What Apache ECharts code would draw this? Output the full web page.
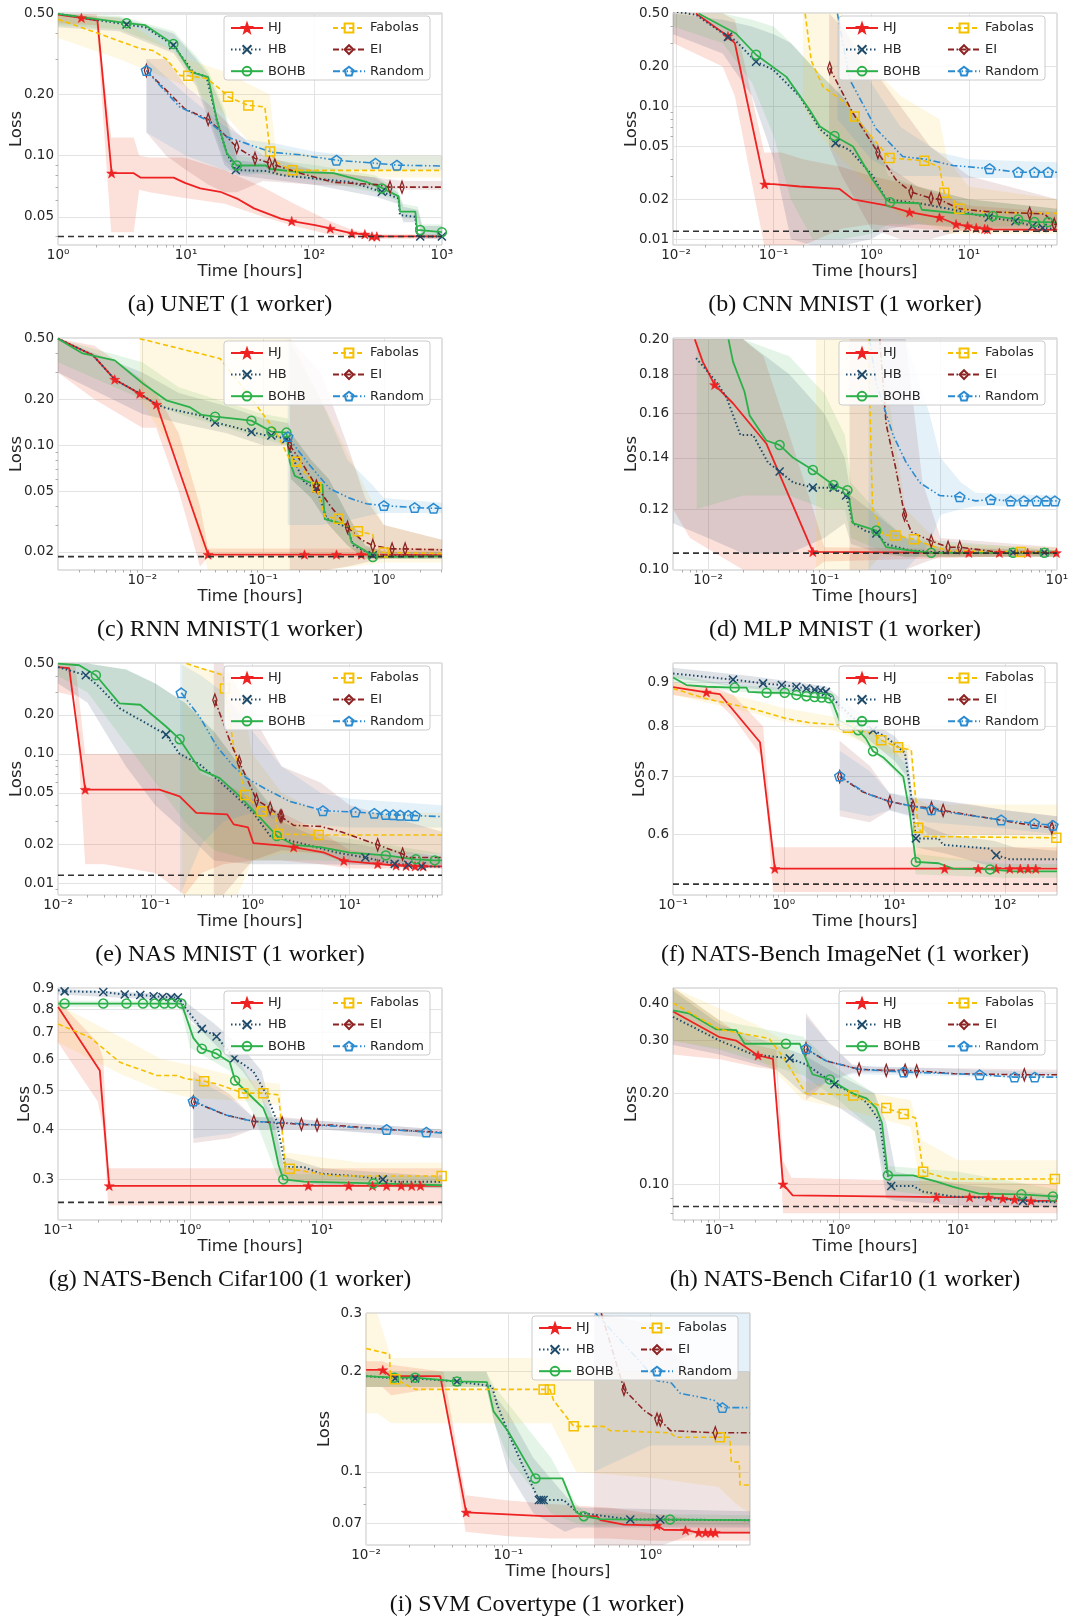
<!DOCTYPE html>
<html><head><meta charset="utf-8">
<script src="https://cdn.jsdelivr.net/npm/echarts@6/dist/echarts.min.js"></script>
<style>html,body{margin:0;padding:0;background:#fff}#c{width:1072px;height:1621px}</style>
</head><body><div id="c"></div>
<script>
// ---------------- DATA ----------------
// line points: [time, loss, markerFlag]; band points: [time, low, high]
const METHODS = ['HJ','HB','BOHB','Fabolas','EI','Random'];
const CAPTIONS = ['(a) UNET (1 worker)','(b) CNN MNIST (1 worker)','(c) RNN MNIST(1 worker)','(d) MLP MNIST (1 worker)','(e) NAS MNIST (1 worker)','(f) NATS-Bench ImageNet (1 worker)','(g) NATS-Bench Cifar100 (1 worker)','(h) NATS-Bench Cifar10 (1 worker)','(i) SVM Covertype (1 worker)'];

// (a) UNET
const A_XRANGE=[0.998,1002], A_YRANGE=[0.0363,0.505], A_XTICKS=[1,10,100,1000], A_YTICKS=[0.05,0.1,0.2,0.5], A_YLABELS=['0.05','0.10','0.20','0.50'], A_OPT=0.04;
const A_HJ=[[1,0.496],[1.52,0.478,1],[2.03,0.463],[2.62,0.082,1],[3.9,0.082],[4.4,0.078],[8,0.078],[9.8,0.0735],[12.9,0.069],[18.5,0.0664],[25,0.0615],[34,0.055],[43,0.052],[55,0.049],[67,0.0476,1],[102,0.0455],[134,0.0438,1],[198,0.0414,1],[250,0.041,1],[284,0.04,1],[310,0.04,1],[1000,0.04]];
const A_HB=[[1,0.5],[3.43,0.443,1],[4.8,0.43],[7.95,0.35,1],[11.4,0.258],[14.5,0.244],[17.4,0.15],[20.8,0.103],[24.5,0.085,1],[42.6,0.084],[57.6,0.08],[105,0.077],[192,0.0743],[339,0.0664,1],[459,0.0615],[470,0.051],[620,0.05],[640,0.04],[677,0.04,1],[1000,0.04,1]];
const A_BOHB=[[1,0.5],[3.43,0.45,1],[4.8,0.44],[7.95,0.355,1],[11,0.258],[14.9,0.244],[17.4,0.15],[20.8,0.103],[24.9,0.0895,1],[42,0.0895],[45.5,0.086],[78,0.083],[142,0.082],[260,0.074],[330,0.07],[339,0.069,1],[459,0.063],[470,0.053],[620,0.053],[640,0.043],[677,0.043,1],[1000,0.042,1]];
const A_FAB=[[1,0.47],[2.1,0.399],[4.4,0.337],[5.5,0.33],[7,0.3],[9,0.248],[10.4,0.248,1],[14.5,0.24],[19,0.21],[21.3,0.195,1],[30.7,0.177,1],[41.3,0.174],[45.4,0.105,1],[50,0.094],[55,0.09],[67.8,0.0847,1],[1000,0.0847]];
const A_EI=[[4.9,0.263,1],[9.8,0.17],[14.9,0.151,1],[20.8,0.124],[24.9,0.11,1],[34.6,0.097,1],[44.8,0.092,1],[49.5,0.09,1],[78,0.082],[142,0.074],[310,0.072],[393,0.07,1],[488,0.07,1],[1000,0.07]];
const A_RND=[[4.9,0.263,1],[8.9,0.174],[14.5,0.15],[20.8,0.124],[31.8,0.113],[46.7,0.104],[78,0.101],[150,0.095,1],[303,0.0918,1],[445,0.0898,1],[1000,0.089]];
const A_HJ_B=[[1,0.45,0.5],[2,0.44,0.5],[2.6,0.042,0.123],[3.9,0.042,0.123],[4.3,0.068,0.1],[5.2,0.066,0.098],[9.5,0.062,0.098],[20,0.058,0.085],[40,0.05,0.07],[70,0.045,0.058],[130,0.041,0.048],[200,0.04,0.043],[300,0.039,0.041],[1000,0.039,0.041]];
const A_HB_B=[[1,0.43,0.5],[3,0.41,0.48],[8,0.32,0.4],[12,0.22,0.3],[15,0.15,0.25],[20,0.09,0.16],[25,0.08,0.095],[50,0.076,0.09],[100,0.072,0.085],[300,0.063,0.078],[450,0.058,0.066],[500,0.047,0.056],[650,0.047,0.054],[700,0.039,0.045],[1000,0.039,0.045]];
const A_BOHB_B=[[1,0.44,0.5],[3,0.42,0.49],[8,0.33,0.41],[12,0.23,0.31],[15,0.16,0.26],[20,0.095,0.17],[25,0.083,0.1],[50,0.08,0.095],[100,0.076,0.09],[300,0.066,0.08],[450,0.06,0.068],[500,0.049,0.058],[650,0.049,0.056],[700,0.04,0.046],[1000,0.04,0.046]];
const A_FAB_B=[[1,0.38,0.5],[3,0.3,0.48],[10,0.22,0.3],[20,0.16,0.26],[45,0.09,0.2],[50,0.08,0.11],[100,0.078,0.1],[1000,0.078,0.1]];
const A_EI_B=[[4.9,0.13,0.3],[7,0.1,0.3],[10,0.085,0.22],[15,0.072,0.18],[20,0.066,0.15],[25,0.066,0.13],[40,0.075,0.1],[100,0.072,0.085],[300,0.07,0.078],[500,0.068,0.075],[1000,0.068,0.075]];
const A_RND_B=[[4.9,0.13,0.3],[10,0.1,0.2],[20,0.085,0.14],[30,0.08,0.12],[50,0.085,0.115],[100,0.085,0.105],[200,0.085,0.1],[1000,0.085,0.1]];

// (b) CNN MNIST
const B_XRANGE=[0.0093,80], B_YRANGE=[0.00907,0.505], B_XTICKS=[0.01,0.1,1,10], B_YTICKS=[0.01,0.02,0.05,0.1,0.2,0.5], B_YLABELS=['0.01','0.02','0.05','0.10','0.20','0.50'], B_OPT=0.0115;
const B_HJ=[[0.016,0.5],[0.034,0.338,1],[0.04,0.3],[0.081,0.026,1],[0.1,0.026],[0.185,0.025],[0.47,0.024],[0.65,0.02],[1.42,0.018],[2.47,0.016,1],[5,0.0146,1],[7.4,0.013,1],[9.7,0.0126,1],[11.9,0.0122,1],[14.5,0.012,1],[15.5,0.0119,1],[80,0.0118]];
const B_HB=[[0.0093,0.52],[0.016,0.49],[0.034,0.334,1],[0.04,0.316],[0.066,0.217,1],[0.098,0.19],[0.185,0.119],[0.296,0.068],[0.43,0.053,1],[0.6,0.047],[1.04,0.03],[1.42,0.02],[3.1,0.0187],[6.85,0.0167],[16,0.0146,1],[30,0.0137,1],[45,0.0126,1],[57,0.0122,1],[80,0.0119]];
const B_BOHB=[[0.017,0.5],[0.041,0.354],[0.066,0.245,1],[0.135,0.167],[0.234,0.094],[0.296,0.071],[0.42,0.06,1],[0.65,0.05],[1.04,0.028],[1.42,0.02],[1.56,0.019,1],[3.1,0.0187],[3.3,0.0167],[6.85,0.0158],[17.6,0.015,1],[32,0.0141,1],[47,0.0135,1],[65,0.0135,1],[80,0.0133]];
const B_FAB=[[0.21,0.5],[0.243,0.22],[0.32,0.141],[0.555,0.105],[0.675,0.084,1],[1.22,0.05],[1.54,0.041,1],[3.5,0.039,1],[5,0.035],[5.6,0.0224,1],[6.85,0.02],[8,0.017,1],[15,0.016],[80,0.0157]];
const B_EI=[[0.375,0.194,1],[0.65,0.089],[1.17,0.045,1],[1.8,0.028],[2.56,0.0227,1],[4.1,0.0204,1],[5,0.02,1],[6,0.0187],[8,0.017],[15,0.0162],[42,0.0157,1],[60,0.0155],[75,0.013,1],[80,0.013]];
const B_RND=[[0.45,0.5],[0.6,0.16],[1.12,0.068],[2.1,0.042],[3.66,0.04],[6.85,0.036],[16.3,0.034,1],[32,0.032,1],[47,0.032,1],[65,0.032,1],[80,0.032]];
const B_HJ_B=[[0.0093,0.3,0.5],[0.03,0.2,0.5],[0.04,0.12,0.45],[0.08,0.009,0.045],[0.12,0.009,0.045],[0.2,0.009,0.04],[0.5,0.012,0.035],[1,0.013,0.03],[3,0.012,0.025],[10,0.0115,0.018],[80,0.0115,0.016]];
const B_HB_B=[[0.0093,0.35,0.5],[0.03,0.25,0.45],[0.06,0.12,0.4],[0.1,0.04,0.35],[0.15,0.01,0.3],[0.25,0.009,0.2],[0.5,0.009,0.12],[1,0.01,0.06],[1.5,0.012,0.035],[3,0.013,0.025],[10,0.012,0.02],[80,0.012,0.017]];
const B_BOHB_B=[[0.0093,0.4,0.5],[0.03,0.3,0.5],[0.06,0.15,0.45],[0.1,0.06,0.4],[0.15,0.02,0.3],[0.25,0.01,0.2],[0.5,0.01,0.12],[1,0.011,0.06],[1.5,0.013,0.03],[3,0.013,0.025],[10,0.0125,0.02],[80,0.0125,0.017]];
const B_FAB_B=[[0.2,0.1,0.5],[0.3,0.06,0.5],[0.5,0.04,0.5],[1,0.025,0.2],[2,0.015,0.12],[5,0.012,0.08],[6,0.011,0.04],[10,0.011,0.025],[80,0.011,0.02]];
const B_EI_B=[[0.37,0.05,0.5],[0.5,0.03,0.4],[1,0.012,0.2],[2,0.01,0.1],[4,0.01,0.05],[10,0.012,0.03],[80,0.012,0.02]];
const B_RND_B=[[0.45,0.08,0.5],[1,0.04,0.15],[2,0.03,0.07],[5,0.03,0.045],[10,0.029,0.04],[80,0.029,0.038]];

// (c) RNN MNIST
const C_XRANGE=[0.002,3.03], C_YRANGE=[0.0152,0.505], C_XTICKS=[0.01,0.1,1], C_YTICKS=[0.02,0.05,0.1,0.2,0.5], C_YLABELS=['0.02','0.05','0.10','0.20','0.50'], C_OPT=0.0186;
const C_HJ=[[0.002,0.5],[0.0039,0.389],[0.0059,0.27,1],[0.0095,0.218,1],[0.0131,0.185,1],[0.035,0.0192,1],[0.22,0.0192,1],[0.405,0.0192,1],[0.65,0.0192,1],[3.03,0.019]];
const C_HB=[[0.002,0.5],[0.0039,0.389],[0.0059,0.27],[0.0095,0.218],[0.0131,0.185],[0.0158,0.175],[0.03,0.157],[0.04,0.141,1],[0.0565,0.132],[0.08,0.122,1],[0.106,0.116],[0.117,0.116,1],[0.156,0.11,1],[0.178,0.081],[0.22,0.057],[0.276,0.052,1],[0.336,0.033],[0.49,0.029],[0.56,0.022],[0.72,0.02],[0.81,0.019,1],[3.03,0.0188]];
const C_BOHB=[[0.002,0.5],[0.0032,0.4],[0.0059,0.36],[0.0101,0.254],[0.0158,0.197],[0.0246,0.178],[0.031,0.158],[0.04,0.154,1],[0.055,0.15],[0.08,0.145,1],[0.117,0.123,1],[0.156,0.121,1],[0.166,0.078],[0.183,0.063],[0.243,0.057],[0.31,0.055],[0.324,0.0328],[0.5,0.03],[0.54,0.023],[0.72,0.02],[0.81,0.0185,1],[3.03,0.0187]];
const C_FAB=[[0.0095,0.5],[0.044,0.37],[0.085,0.19],[0.128,0.122],[0.166,0.081],[0.189,0.078,1],[0.276,0.053,1],[0.324,0.034],[0.42,0.033,1],[0.5,0.029],[0.61,0.0273,1],[0.81,0.026],[0.85,0.02],[1.0,0.0198,1],[3.03,0.0195]];
const C_EI=[[0.166,0.1,1],[0.2,0.081],[0.276,0.054,1],[0.36,0.04],[0.5,0.029,1],[0.65,0.024],[0.81,0.022,1],[1.17,0.0209,1],[1.5,0.0209,1],[3.03,0.0206]];
const C_RND=[[0.16,0.114,1],[0.2,0.09],[0.243,0.074],[0.355,0.052],[0.52,0.045],[0.72,0.0413],[1,0.0402,1],[1.8,0.039,1],[2.58,0.0386,1],[3.03,0.0386]];
const C_HJ_B=[[0.002,0.3,0.5],[0.004,0.2,0.45],[0.01,0.13,0.27],[0.013,0.13,0.22],[0.02,0.05,0.12],[0.03,0.016,0.04],[0.035,0.0185,0.021],[3.03,0.0185,0.021]];
const C_HB_B=[[0.002,0.3,0.5],[0.01,0.16,0.3],[0.02,0.14,0.22],[0.05,0.12,0.18],[0.1,0.1,0.15],[0.16,0.1,0.14],[0.17,0.06,0.12],[0.25,0.045,0.08],[0.35,0.03,0.06],[0.5,0.022,0.035],[0.7,0.018,0.022],[1,0.018,0.02],[3.03,0.018,0.02]];
const C_BOHB_B=[[0.002,0.35,0.5],[0.01,0.2,0.35],[0.02,0.16,0.24],[0.05,0.13,0.19],[0.1,0.11,0.16],[0.16,0.1,0.15],[0.17,0.06,0.12],[0.25,0.045,0.08],[0.35,0.03,0.06],[0.5,0.022,0.035],[0.7,0.018,0.022],[1,0.018,0.02],[3.03,0.018,0.02]];
const C_FAB_B=[[0.0095,0.2,0.5],[0.02,0.08,0.5],[0.035,0.015,0.5],[0.17,0.015,0.5],[0.3,0.015,0.2],[1,0.017,0.03],[3.03,0.017,0.024]];
const C_EI_B=[[0.166,0.015,0.5],[0.3,0.015,0.3],[0.5,0.016,0.1],[0.7,0.017,0.045],[1,0.018,0.03],[3.03,0.018,0.024]];
const C_RND_B=[[0.16,0.03,0.5],[0.3,0.03,0.2],[0.5,0.032,0.08],[0.8,0.035,0.055],[1,0.036,0.045],[3.03,0.036,0.042]];

// (d) MLP MNIST
const D_XRANGE=[0.005,10.02], D_YRANGE=[0.0999,0.2008], D_XTICKS=[0.01,0.1,1,10], D_YTICKS=[0.1,0.12,0.14,0.16,0.18,0.2], D_YLABELS=['0.10','0.12','0.14','0.16','0.18','0.20'], D_OPT=0.1051;
const D_HJ=[[0.0077,0.2],[0.009,0.187],[0.0114,0.1744,1],[0.0164,0.165],[0.0317,0.1462],[0.0797,0.1055,1],[1.75,0.1052,1],[3.2,0.1052,1],[5.6,0.1052,1],[9.9,0.1052,1],[10.02,0.1052]];
const D_HB=[[0.0079,0.189],[0.0118,0.176],[0.0144,0.168],[0.019,0.15],[0.0244,0.15],[0.0328,0.138],[0.0413,0.1344,1],[0.054,0.13],[0.0797,0.128,1],[0.12,0.128,1],[0.154,0.125,1],[0.176,0.115],[0.23,0.1122],[0.28,0.1115,1],[0.34,0.108],[0.54,0.106],[0.83,0.1055],[4.2,0.1053,1],[7.8,0.1053,1],[10.02,0.1053]];
const D_BOHB=[[0.015,0.2],[0.0164,0.187],[0.0206,0.1708],[0.0228,0.159],[0.0317,0.1475],[0.0413,0.1455,1],[0.054,0.14],[0.0797,0.135,1],[0.12,0.129,1],[0.158,0.127,1],[0.165,0.123],[0.176,0.115],[0.28,0.1125,1],[0.34,0.107],[0.54,0.106],[0.83,0.1052,1],[4.2,0.1052,1],[7.8,0.1052,1],[10.02,0.1052]];
const D_FAB=[[0.24,0.2],[0.245,0.17],[0.26,0.12],[0.32,0.111],[0.41,0.1108,1],[0.59,0.1096,1],[0.91,0.107],[1.2,0.1058],[4.9,0.1055,1],[10.02,0.1055]];
const D_EI=[[0.3,0.2],[0.34,0.155],[0.41,0.136],[0.49,0.1179,1],[0.56,0.112],[0.83,0.109,1],[1.16,0.107,1],[1.46,0.107,1],[3,0.1055],[10.02,0.1053]];
const D_RND=[[0.245,0.2],[0.28,0.175],[0.39,0.15],[0.5,0.1385],[0.66,0.13],[0.98,0.125],[1.46,0.1245,1],[2,0.123],[2.7,0.1235,1],[4,0.123,1],[5.2,0.123,1],[6.7,0.123,1],[8.1,0.123,1],[9.6,0.123,1],[10.02,0.123]];
const D_HJ_B=[[0.005,0.12,0.2],[0.007,0.11,0.2],[0.02,0.1,0.2],[0.03,0.1,0.19],[0.05,0.1,0.15],[0.08,0.1,0.12],[0.1,0.1025,0.107],[10.02,0.1045,0.106]];
const D_HB_B=[[0.005,0.115,0.2],[0.01,0.11,0.2],[0.02,0.105,0.2],[0.05,0.105,0.18],[0.1,0.11,0.16],[0.15,0.115,0.14],[0.17,0.108,0.125],[0.3,0.105,0.117],[0.5,0.104,0.11],[1,0.104,0.107],[10.02,0.104,0.106]];
const D_BOHB_B=[[0.008,0.12,0.2],[0.02,0.125,0.2],[0.05,0.125,0.19],[0.1,0.12,0.17],[0.15,0.12,0.15],[0.17,0.11,0.13],[0.3,0.106,0.118],[0.5,0.104,0.11],[10.02,0.104,0.106]];
const D_FAB_B=[[0.085,0.1,0.2],[0.24,0.1,0.2],[0.3,0.104,0.2],[0.5,0.104,0.12],[1,0.104,0.108],[10.02,0.104,0.107]];
const D_EI_B=[[0.165,0.1,0.2],[0.5,0.1,0.2],[0.7,0.102,0.13],[1,0.104,0.11],[10.02,0.104,0.107]];
const D_RND_B=[[0.24,0.1,0.2],[0.5,0.1,0.2],[0.8,0.108,0.16],[1,0.118,0.14],[1.5,0.12,0.13],[2,0.121,0.126],[10.02,0.121,0.125]];

// (e) NAS MNIST
const E_XRANGE=[0.00998,89], E_YRANGE=[0.0081,0.505], E_XTICKS=[0.01,0.1,1,10], E_YTICKS=[0.01,0.02,0.05,0.1,0.2,0.5], E_YLABELS=['0.01','0.02','0.05','0.10','0.20','0.50'], E_OPT=0.0115;
const E_HJ=[[0.01,0.47],[0.013,0.46],[0.019,0.053,1],[0.11,0.053],[0.178,0.047],[0.264,0.035],[0.55,0.034],[0.64,0.0285],[0.9,0.027],[1.02,0.0204],[2,0.0195],[2.65,0.019,1],[5.5,0.0172],[8.7,0.0149,1],[19.4,0.0141,1],[30,0.0137,1],[38,0.0136,1],[47,0.0135,1],[57,0.0135,1],[89,0.0135]];
const E_HB=[[0.01,0.47],[0.0193,0.406,1],[0.0265,0.33],[0.0428,0.226],[0.129,0.141,1],[0.178,0.1],[0.286,0.083],[0.43,0.064],[0.64,0.049],[1.02,0.035],[1.52,0.0232],[3.1,0.0204],[7.5,0.0172],[14.5,0.0158,1],[29,0.0141,1],[40,0.0139,1],[55,0.0135,1],[89,0.0134]];
const E_BOHB=[[0.01,0.5],[0.0165,0.485],[0.0245,0.406,1],[0.0428,0.246],[0.07,0.24],[0.129,0.163],[0.178,0.13,1],[0.286,0.076],[0.46,0.065],[0.74,0.047],[1.2,0.032],[1.78,0.0232,1],[2.65,0.0198],[5,0.019],[10,0.0172],[23.5,0.0164,1],[48,0.0153,1],[75,0.015,1],[89,0.015]];
const E_FAB=[[0.209,0.5],[0.5,0.406],[0.52,0.32,1],[0.64,0.114],[0.84,0.048,1],[1.24,0.036,1],[1.7,0.034],[1.86,0.024,1],[4.8,0.0236,1],[89,0.0236]];
const E_EI=[[0.41,0.261,1],[0.6,0.12],[0.73,0.087,1],[1.1,0.044,1],[1.52,0.038,1],[1.93,0.033,1],[2.0,0.033,1],[2.65,0.028],[5,0.0275],[8.1,0.025],[19.4,0.0198,1],[35,0.0168,1],[40,0.0158],[89,0.0158]];
const E_RND=[[0.185,0.297,1],[0.286,0.194],[0.43,0.114],[0.64,0.08],[0.87,0.065],[1.4,0.053],[2.4,0.043],[5.3,0.0364,1],[11.4,0.0355,1],[17.9,0.0347,1],[23.4,0.034,1],[28,0.0338,1],[33,0.0336,1],[40,0.0334,1],[47,0.0333,1],[89,0.0327]];
const E_HJ_B=[[0.01,0.3,0.5],[0.015,0.28,0.5],[0.019,0.014,0.1],[0.03,0.014,0.1],[0.1,0.012,0.1],[0.2,0.0081,0.1],[0.3,0.012,0.07],[0.5,0.014,0.06],[1,0.015,0.045],[2,0.015,0.035],[5,0.014,0.025],[10,0.013,0.018],[89,0.013,0.0145]];
const E_HB_B=[[0.01,0.35,0.5],[0.02,0.25,0.5],[0.05,0.08,0.45],[0.1,0.04,0.35],[0.2,0.025,0.25],[0.4,0.015,0.15],[1,0.014,0.06],[2,0.014,0.03],[5,0.014,0.022],[89,0.0135,0.016]];
const E_BOHB_B=[[0.01,0.4,0.5],[0.02,0.3,0.5],[0.05,0.12,0.45],[0.1,0.06,0.35],[0.2,0.03,0.25],[0.4,0.018,0.15],[1,0.015,0.06],[2,0.015,0.032],[5,0.015,0.024],[89,0.014,0.017]];
const E_FAB_B=[[0.19,0.0081,0.5],[0.7,0.0081,0.4],[1,0.015,0.1],[2,0.017,0.05],[5,0.017,0.035],[89,0.017,0.035]];
const E_EI_B=[[0.4,0.0081,0.5],[0.5,0.0081,0.5],[1,0.015,0.2],[2,0.018,0.08],[5,0.017,0.06],[10,0.014,0.04],[89,0.013,0.025]];
const E_RND_B=[[0.18,0.0081,0.5],[0.3,0.02,0.4],[0.5,0.03,0.3],[1,0.035,0.15],[2,0.03,0.08],[5,0.028,0.05],[10,0.027,0.045],[89,0.027,0.04]];

// (f) NATS-Bench ImageNet
const F_XRANGE=[0.0998,294], F_YRANGE=[0.511,0.947], F_XTICKS=[0.1,1,10,100], F_YTICKS=[0.6,0.7,0.8,0.9], F_YLABELS=['0.6','0.7','0.8','0.9'], F_OPT=0.526;
const F_HJ=[[0.1,0.888],[0.2,0.876,1],[0.264,0.872],[0.61,0.767],[0.83,0.548,1],[28.4,0.548,1],[57,0.548,1],[83,0.548,1],[110,0.548,1],[137,0.548,1],[161,0.548,1],[189,0.548,1],[294,0.548]];
const F_HB=[[0.1,0.921],[0.348,0.906,1],[0.65,0.897,1],[0.96,0.893,1],[1.3,0.889,1],[1.6,0.885,1],[1.9,0.882,1],[2.15,0.88,1],[2.4,0.877,1],[3,0.853],[4.2,0.819],[6.4,0.792,1],[8.4,0.778],[10.8,0.757],[12.4,0.746],[14,0.672],[15.6,0.594,1],[25,0.594],[27.5,0.584],[73,0.578],[83,0.568,1],[110,0.562],[294,0.562]];
const F_BOHB=[[0.1,0.911],[0.132,0.893],[0.2,0.889],[0.36,0.887,1],[0.46,0.887],[0.48,0.877],[0.7,0.875,1],[1.02,0.875,1],[1.3,0.87,1],[1.6,0.867,1],[1.9,0.865,1],[2.2,0.864,1],[2.57,0.862,1],[2.8,0.849],[3.2,0.812],[4.7,0.792,1],[5.5,0.775],[6.4,0.749,1],[8,0.736],[12,0.7],[13.7,0.637],[15.6,0.558,1],[25,0.556],[33.9,0.548],[73,0.547,1],[118,0.544],[294,0.544]];
const F_FAB=[[0.1,0.885],[0.2,0.861],[0.53,0.838],[1.05,0.817],[1.7,0.808],[3.2,0.803],[3.8,0.797,1],[6.4,0.785],[7.6,0.771,1],[10.8,0.757,1],[14.2,0.751],[16.4,0.611,1],[18.7,0.597],[290,0.595,1],[294,0.595]];
const F_EI=[[3.2,0.7,1],[5.2,0.672],[9.1,0.655,1],[14.7,0.647,1],[21.6,0.644,1],[27.5,0.64,1],[47.8,0.632],[89,0.624],[137,0.618],[264,0.611,1],[294,0.611]];
const F_RND=[[3.2,0.701,1],[5.6,0.669],[9.1,0.655],[14.7,0.647],[21.6,0.641,1],[45,0.632],[92,0.624,1],[184,0.618,1],[270,0.615,1],[294,0.615]];
const F_HJ_B=[[0.1,0.87,0.9],[0.25,0.855,0.885],[0.35,0.82,0.87],[0.65,0.735,0.8],[0.8,0.515,0.58],[294,0.515,0.58]];
const F_HB_B=[[0.1,0.91,0.935],[0.5,0.885,0.915],[2.4,0.87,0.89],[3,0.84,0.87],[6,0.77,0.81],[10,0.73,0.78],[13,0.7,0.75],[15.5,0.58,0.62],[30,0.57,0.6],[80,0.55,0.59],[120,0.55,0.58],[294,0.55,0.575]];
const F_BOHB_B=[[0.1,0.9,0.92],[0.3,0.88,0.895],[2.5,0.86,0.88],[3,0.8,0.83],[5,0.77,0.81],[10,0.71,0.75],[13,0.68,0.72],[15.5,0.54,0.57],[100,0.535,0.555],[294,0.535,0.555]];
const F_FAB_B=[[0.1,0.87,0.9],[0.5,0.83,0.86],[1,0.81,0.84],[3,0.79,0.82],[10,0.74,0.77],[14,0.73,0.76],[16,0.56,0.66],[20,0.56,0.65],[294,0.56,0.65]];
const F_EI_B=[[3.2,0.63,0.77],[6,0.62,0.72],[9,0.64,0.67],[15,0.63,0.66],[20,0.6,0.66],[50,0.6,0.65],[100,0.6,0.64],[294,0.6,0.63]];
const F_RND_B=[[3.2,0.64,0.75],[6,0.63,0.71],[9,0.64,0.67],[20,0.62,0.66],[100,0.61,0.64],[294,0.6,0.63]];

// (g) NATS-Bench Cifar100
const G_XRANGE=[0.0998,81.5], G_YRANGE=[0.2374,0.9035], G_XTICKS=[0.1,1,10], G_YTICKS=[0.3,0.4,0.5,0.6,0.7,0.8,0.9], G_YLABELS=['0.3','0.4','0.5','0.6','0.7','0.8','0.9'], G_OPT=0.2628;
const G_HJ=[[0.1,0.81],[0.207,0.562],[0.244,0.289,1],[7.9,0.289,1],[16,0.289,1],[24.2,0.289,1],[31,0.289,1],[40,0.289,1],[48,0.289,1],[56,0.289,1],[81.5,0.289]];
const G_HB=[[0.1,0.892],[0.112,0.886,1],[0.22,0.883,1],[0.32,0.87,1],[0.42,0.868,1],[0.53,0.862,1],[0.62,0.858,1],[0.72,0.856,1],[0.81,0.855,1],[0.89,0.818],[1.23,0.714,1],[1.59,0.683,1],[2.17,0.603,1],[3.02,0.559],[3.8,0.49],[4.5,0.424],[5.3,0.322],[7.3,0.322],[9.8,0.31],[20,0.305],[29,0.3,1],[35,0.296],[81.5,0.296]];
const G_BOHB=[[0.1,0.826],[0.112,0.826,1],[0.22,0.826,1],[0.33,0.826,1],[0.44,0.826,1],[0.54,0.826,1],[0.64,0.826,1],[0.73,0.826,1],[0.86,0.826,1],[0.89,0.802],[1.06,0.678],[1.23,0.637,1],[1.59,0.619,1],[2,0.59],[2.2,0.53,1],[3.02,0.478],[3.6,0.452],[4.05,0.41],[4.7,0.326],[5.1,0.3,1],[7.3,0.296],[24.6,0.293,1],[81.5,0.29]];
const G_FAB=[[0.1,0.734],[0.174,0.68],[0.294,0.589],[0.56,0.546],[0.8,0.546],[0.92,0.536],[1.28,0.528,1],[1.59,0.52],[2.54,0.493,1],[3.6,0.493,1],[4.7,0.488],[5.3,0.322],[5.7,0.319,1],[9.4,0.31],[12.2,0.306],[81,0.306,1]];
const G_EI=[[1.06,0.469,1],[1.9,0.434],[3.05,0.419,1],[5.0,0.415,1],[7.0,0.412,1],[9.2,0.41,1],[12.2,0.41],[31,0.4],[62,0.395],[81.5,0.393]];
const G_RND=[[1.06,0.471,1],[1.9,0.434],[3.02,0.419],[5.7,0.415],[9.4,0.41],[31,0.4,1],[62,0.394,1],[81.5,0.392]];
const G_HJ_B=[[0.1,0.66,0.84],[0.2,0.47,0.66],[0.22,0.4,0.6],[0.24,0.258,0.32],[81.5,0.258,0.32]];
const G_HB_B=[[0.1,0.87,0.9],[0.8,0.84,0.87],[0.9,0.78,0.84],[1.5,0.66,0.74],[2.5,0.56,0.64],[3.5,0.48,0.56],[5,0.31,0.34],[5.5,0.3,0.34],[10,0.29,0.32],[81.5,0.285,0.305]];
const G_BOHB_B=[[0.1,0.81,0.84],[0.85,0.81,0.84],[1,0.64,0.74],[2,0.56,0.65],[3,0.44,0.52],[4.5,0.31,0.42],[5.2,0.29,0.31],[81.5,0.285,0.305]];
const G_FAB_B=[[0.1,0.66,0.82],[0.3,0.55,0.68],[0.6,0.5,0.6],[1,0.48,0.58],[3,0.47,0.53],[4.8,0.46,0.52],[5.3,0.3,0.35],[20,0.29,0.33],[81.5,0.29,0.33]];
const G_EI_B=[[1.06,0.37,0.56],[2,0.38,0.49],[3,0.4,0.43],[5,0.4,0.43],[10,0.4,0.42],[81.5,0.38,0.4]];
const G_RND_B=[[1.06,0.38,0.54],[2,0.39,0.48],[3,0.4,0.43],[10,0.4,0.42],[81.5,0.38,0.4]];

// (h) NATS-Bench Cifar10
const H_XRANGE=[0.0406,67.7], H_YRANGE=[0.076,0.449], H_XTICKS=[0.1,1,10], H_YTICKS=[0.1,0.2,0.3,0.4], H_YLABELS=['0.10','0.20','0.30','0.40'], H_OPT=0.0843;
const H_HJ=[[0.0406,0.375],[0.1,0.308],[0.138,0.3],[0.21,0.268,1],[0.28,0.261],[0.34,0.1,1],[0.41,0.0918],[6.6,0.0905,1],[12.5,0.0905,1],[18,0.0905,1],[23.8,0.0896,1],[29.8,0.089,1],[41,0.088,1],[67.7,0.088]];
const H_HB=[[0.0406,0.36],[0.1,0.3],[0.19,0.27],[0.387,0.262,1],[0.53,0.25],[0.69,0.233],[0.92,0.215,1],[1.32,0.2],[1.71,0.187],[2.2,0.162],[2.5,0.112],[2.75,0.0986,1],[4.2,0.0986],[5.1,0.0944],[9,0.091],[18,0.09],[35,0.088,1],[67.7,0.087]];
const H_BOHB=[[0.0406,0.378],[0.055,0.37],[0.094,0.327],[0.138,0.325],[0.162,0.293],[0.36,0.293,1],[0.47,0.293],[0.53,0.261],[0.6,0.232],[0.84,0.223,1],[1.32,0.2],[1.71,0.193],[2.06,0.179],[2.3,0.16],[2.58,0.107,1],[4.2,0.107],[6.6,0.102],[9.1,0.098],[15,0.093],[34,0.0925,1],[62.5,0.091,1],[67.7,0.091]];
const H_FAB=[[0.0406,0.4],[0.1,0.327],[0.26,0.305],[0.34,0.265],[0.53,0.2],[0.9,0.199],[1.32,0.197,1],[2,0.185],[2.5,0.179,1],[3.5,0.171,1],[4.4,0.166],[5.1,0.11,1],[6.6,0.107],[8.5,0.104],[65,0.104,1],[67.7,0.104]];
const H_EI=[[0.53,0.282,1],[0.78,0.257],[1.48,0.241,1],[2.5,0.239,1],[3.6,0.239,1],[4.5,0.238,1],[9.1,0.233],[36,0.231,1],[67.7,0.231]];
const H_RND=[[0.53,0.282,1],[0.78,0.257],[1.48,0.241],[3.5,0.236,1],[9.1,0.233],[15.2,0.231,1],[29.8,0.227,1],[44,0.227,1],[67.7,0.227]];
const H_HJ_B=[[0.0406,0.27,0.45],[0.1,0.26,0.35],[0.2,0.245,0.29],[0.3,0.24,0.28],[0.34,0.08,0.12],[0.4,0.08,0.105],[67.7,0.08,0.1]];
const H_HB_B=[[0.0406,0.29,0.44],[0.1,0.27,0.34],[0.3,0.24,0.29],[0.5,0.2,0.27],[1,0.18,0.23],[2,0.15,0.2],[2.5,0.09,0.16],[3,0.088,0.11],[10,0.085,0.1],[67.7,0.084,0.092]];
const H_BOHB_B=[[0.0406,0.3,0.45],[0.1,0.28,0.35],[0.5,0.23,0.31],[1,0.19,0.24],[2,0.15,0.2],[2.6,0.095,0.115],[10,0.09,0.11],[67.7,0.086,0.096]];
const H_FAB_B=[[0.0406,0.3,0.45],[0.2,0.27,0.34],[0.35,0.22,0.3],[0.5,0.19,0.22],[1,0.18,0.21],[4,0.155,0.19],[5,0.09,0.14],[10,0.09,0.12],[67.7,0.09,0.12]];
const H_EI_B=[[0.53,0.19,0.37],[0.8,0.22,0.3],[1.3,0.235,0.25],[2,0.235,0.245],[67.7,0.23,0.24]];
const H_RND_B=[[0.53,0.2,0.36],[0.8,0.22,0.3],[1.3,0.232,0.248],[67.7,0.225,0.235]];

// (i) SVM Covertype
const I_XRANGE=[0.00998,5.0], I_YRANGE=[0.0602,0.3005], I_XTICKS=[0.01,0.1,1], I_YTICKS=[0.07,0.1,0.2,0.3], I_YLABELS=['0.07','0.1','0.2','0.3'], I_OPT=null;
const I_HJ=[[0.01,0.2025],[0.0131,0.2025,1],[0.0148,0.194],[0.0332,0.194],[0.0505,0.0755,1],[0.177,0.0735],[0.42,0.0735],[0.444,0.0715],[0.65,0.0693],[1.11,0.069,1],[1.24,0.0669],[1.76,0.0667,1],[2.18,0.0656,1],[2.43,0.0656,1],[2.65,0.0656,1],[2.85,0.0656,1],[5,0.0656]];
const I_HB=[[0.01,0.194],[0.016,0.191,1],[0.0221,0.191,1],[0.0435,0.187,1],[0.0768,0.181],[0.083,0.16],[0.103,0.127],[0.128,0.103],[0.164,0.0822,1],[0.17,0.0822,1],[0.177,0.0822,1],[0.245,0.0822],[0.305,0.0755],[0.72,0.0718,1],[1.17,0.0718,1],[5,0.0715]];
const I_BOHB=[[0.01,0.194],[0.0158,0.192,1],[0.0221,0.192,1],[0.0435,0.187,1],[0.0707,0.186],[0.0787,0.152],[0.1,0.132],[0.155,0.0955,1],[0.24,0.0955],[0.3,0.0755],[0.339,0.0735,1],[0.444,0.072],[0.72,0.0718],[1.37,0.0718,1],[5,0.0715]];
const I_FAB=[[0.01,0.235],[0.0146,0.226],[0.0148,0.194],[0.016,0.19,1],[0.0221,0.177],[0.0707,0.177],[0.177,0.177,1],[0.196,0.177,1],[0.208,0.164],[0.288,0.137,1],[0.47,0.137],[0.52,0.133],[1.38,0.131],[1.5,0.127],[3.07,0.127,1],[3.6,0.127],[3.7,0.107],[4.2,0.107],[4.25,0.0912],[5,0.0912]];
const I_EI=[[0.45,0.3],[0.62,0.19],[0.65,0.177,1],[0.9,0.153],[1.11,0.144,1],[1.17,0.143,1],[1.38,0.133],[2.85,0.131,1],[5,0.131]];
const I_RND=[[0.41,0.3],[0.8,0.22],[1.11,0.188],[1.4,0.185],[1.62,0.172],[2.2,0.168],[2.8,0.164],[3.2,0.156,1],[5,0.156]];
const I_HJ_B=[[0.01,0.18,0.215],[0.013,0.18,0.215],[0.015,0.17,0.21],[0.035,0.18,0.2],[0.05,0.066,0.085],[0.1,0.064,0.082],[0.2,0.063,0.08],[0.5,0.063,0.078],[1,0.062,0.075],[2,0.062,0.072],[5,0.062,0.072]];
const I_HB_B=[[0.01,0.18,0.2],[0.07,0.18,0.2],[0.08,0.14,0.17],[0.1,0.1,0.15],[0.15,0.075,0.11],[0.25,0.066,0.085],[0.3,0.068,0.078],[5,0.068,0.076]];
const I_BOHB_B=[[0.01,0.18,0.2],[0.07,0.18,0.2],[0.08,0.14,0.18],[0.1,0.11,0.16],[0.2,0.075,0.11],[0.3,0.07,0.08],[0.35,0.069,0.075],[5,0.069,0.074]];
const I_FAB_B=[[0.01,0.15,0.3],[0.012,0.15,0.3],[0.015,0.14,0.22],[0.2,0.14,0.22],[0.3,0.1,0.2],[1,0.096,0.2],[3,0.09,0.2],[4,0.08,0.2],[5,0.075,0.2]];
const I_EI_B=[[0.4,0.06,0.3],[1,0.06,0.28],[1.2,0.06,0.25],[2,0.065,0.2],[5,0.065,0.2]];
const I_RND_B=[[0.4,0.1,0.3],[1,0.12,0.3],[5,0.12,0.3]];

// ---------------- STYLE / LAYOUT ----------------
const STAR='path://M0,-10L2.35,-3.24L9.51,-3.09L3.8,1.24L5.88,8.09L0,4L-5.88,8.09L-3.8,1.24L-9.51,-3.09L-2.35,-3.24Z';
const XSYM='path://M0,0L10,10M10,0L0,10';
const DIAM='path://M0,-10L6,0L0,10L-6,0Z';
const PENT='path://M0,-10L9.51,-3.09L5.88,8.09L-5.88,8.09L-9.51,-3.09Z';
const COLORS=['#ee2222','#1f4b6b','#2cb04a','#f5c000','#8c2222','#2a8bd0'];
const BAND_COLORS=['rgba(240,100,70,0.2)','rgba(40,70,100,0.15)','rgba(45,176,74,0.13)','rgba(250,200,40,0.14)','rgba(140,40,40,0.13)','rgba(42,139,208,0.12)'];
const DASH=['solid',[1.5,2.5],'solid',[5,3],[6,2.5,1.5,2.5],[7,2.5,1.5,2.5,1.5,2.5]];
const SYMS=[STAR,XSYM,'circle','rect',DIAM,PENT];
const SYM_SIZE=[10,8,9,9,[7,12],10];
const LINE_W=[1.8,2,1.8,1.6,1.6,1.6];

const PANELS=[
 {pos:[58,13],capX:230,ng:33,xr:A_XRANGE,yr:A_YRANGE,xt:A_XTICKS,yt:A_YTICKS,yl:A_YLABELS,opt:A_OPT,lines:[A_HJ,A_HB,A_BOHB,A_FAB,A_EI,A_RND],bands:[A_HJ_B,A_HB_B,A_BOHB_B,A_FAB_B,A_EI_B,A_RND_B]},
 {pos:[673,13],capX:845,ng:33,xr:B_XRANGE,yr:B_YRANGE,xt:B_XTICKS,yt:B_YTICKS,yl:B_YLABELS,opt:B_OPT,lines:[B_HJ,B_HB,B_BOHB,B_FAB,B_EI,B_RND],bands:[B_HJ_B,B_HB_B,B_BOHB_B,B_FAB_B,B_EI_B,B_RND_B]},
 {pos:[58,338],capX:230,ng:33,xr:C_XRANGE,yr:C_YRANGE,xt:C_XTICKS,yt:C_YTICKS,yl:C_YLABELS,opt:C_OPT,lines:[C_HJ,C_HB,C_BOHB,C_FAB,C_EI,C_RND],bands:[C_HJ_B,C_HB_B,C_BOHB_B,C_FAB_B,C_EI_B,C_RND_B]},
 {pos:[673,338],capX:845,ng:33,xr:D_XRANGE,yr:D_YRANGE,xt:D_XTICKS,yt:D_YTICKS,yl:D_YLABELS,opt:D_OPT,lines:[D_HJ,D_HB,D_BOHB,D_FAB,D_EI,D_RND],bands:[D_HJ_B,D_HB_B,D_BOHB_B,D_FAB_B,D_EI_B,D_RND_B]},
 {pos:[58,663],capX:230,ng:33,xr:E_XRANGE,yr:E_YRANGE,xt:E_XTICKS,yt:E_YTICKS,yl:E_YLABELS,opt:E_OPT,lines:[E_HJ,E_HB,E_BOHB,E_FAB,E_EI,E_RND],bands:[E_HJ_B,E_HB_B,E_BOHB_B,E_FAB_B,E_EI_B,E_RND_B]},
 {pos:[673,663],capX:845,ng:25,xr:F_XRANGE,yr:F_YRANGE,xt:F_XTICKS,yt:F_YTICKS,yl:F_YLABELS,opt:F_OPT,lines:[F_HJ,F_HB,F_BOHB,F_FAB,F_EI,F_RND],bands:[F_HJ_B,F_HB_B,F_BOHB_B,F_FAB_B,F_EI_B,F_RND_B]},
 {pos:[58,988],capX:230,ng:25,xr:G_XRANGE,yr:G_YRANGE,xt:G_XTICKS,yt:G_YTICKS,yl:G_YLABELS,opt:G_OPT,lines:[G_HJ,G_HB,G_BOHB,G_FAB,G_EI,G_RND],bands:[G_HJ_B,G_HB_B,G_BOHB_B,G_FAB_B,G_EI_B,G_RND_B]},
 {pos:[673,988],capX:845,ng:33,xr:H_XRANGE,yr:H_YRANGE,xt:H_XTICKS,yt:H_YTICKS,yl:H_YLABELS,opt:H_OPT,lines:[H_HJ,H_HB,H_BOHB,H_FAB,H_EI,H_RND],bands:[H_HJ_B,H_HB_B,H_BOHB_B,H_FAB_B,H_EI_B,H_RND_B]},
 {pos:[366,1313],capX:537,ng:33,xr:I_XRANGE,yr:I_YRANGE,xt:I_XTICKS,yt:I_YTICKS,yl:I_YLABELS,opt:I_OPT,lines:[I_HJ,I_HB,I_BOHB,I_FAB,I_EI,I_RND],bands:[I_HJ_B,I_HB_B,I_BOHB_B,I_FAB_B,I_EI_B,I_RND_B]}
];
const PW=384, PH=232;
const FONT='DejaVu Sans', TXT='#262626';
const SUP={'-':'\u207B','0':'\u2070','1':'\u00B9','2':'\u00B2','3':'\u00B3'};
function xFmt(v){const e=Math.round(Math.log10(v));return '10'+String(e).split('').map(c=>SUP[c]).join('');}
// log minor tick positions (2..9 x 10^k) inside a range, skipping labelled ticks
function minorTicks(r,major){
  const out=[];
  for(let e=Math.floor(Math.log10(r[0]));e<=Math.ceil(Math.log10(r[1]));e++){
    for(let k=2;k<=9;k++){
      const v=+(k*Math.pow(10,e)).toPrecision(6);
      if(v>r[0]&&v<r[1]&&!major.some(m=>Math.abs(m/v-1)<1e-6))out.push(v);
    }
  }
  return out;
}

const grid=[],xAxis=[],yAxis=[],series=[],legend=[],gfx=[];
const xMinor=[],yMinor=[];
PANELS.forEach((P,gi)=>{
  const [L,T]=P.pos;
  grid.push({left:L,top:T,width:PW,height:PH,show:true,borderColor:'#c4c4c4',borderWidth:1,backgroundColor:'#fff',outerBoundsMode:'none'});
  xAxis.push({type:'log',logBase:10,gridIndex:gi,position:'bottom',min:P.xr[0],max:P.xr[1],
    axisLine:{show:false},axisTick:{show:false,customValues:P.xt},
    axisLabel:{customValues:P.xt,formatter:xFmt,fontFamily:FONT,fontSize:13.5,color:TXT,margin:3,hideOverlap:false,showMinLabel:true,showMaxLabel:true},
    splitLine:{show:true,lineStyle:{color:'#e3e3e3',width:1}},
    name:'Time [hours]',nameLocation:'middle',nameGap:18,nameTextStyle:{fontFamily:FONT,fontSize:16.5,color:TXT}});
  const yt=P.yt, yl=P.yl;
  yAxis.push({type:'log',logBase:10,gridIndex:gi,position:'left',min:P.yr[0],max:P.yr[1],
    axisLine:{show:false},axisTick:{show:false,customValues:yt},
    axisLabel:{customValues:yt,fontFamily:FONT,fontSize:13.5,color:TXT,margin:4,hideOverlap:false,showMinLabel:true,showMaxLabel:true,
      formatter:v=>{let b=0;for(let k=1;k<yt.length;k++){if(Math.abs(Math.log(yt[k]/v))<Math.abs(Math.log(yt[b]/v)))b=k;}return yl[b];}},
    splitLine:{show:true,lineStyle:{color:'#e3e3e3',width:1}},
    name:'Loss',nameLocation:'middle',nameGap:P.ng,nameMoveOverlap:false,nameTextStyle:{fontFamily:FONT,fontSize:16.5,color:TXT}});
  const minorStyle={show:true,inside:false,length:2.5,lineStyle:{color:'#9a9a9a',width:0.8}};
  xMinor.push({type:'log',logBase:10,gridIndex:gi,position:'bottom',offset:0,min:P.xr[0],max:P.xr[1],
    axisLine:{show:false},axisTick:Object.assign({customValues:minorTicks(P.xr,P.xt)},minorStyle),axisLabel:{show:false},splitLine:{show:false}});
  yMinor.push({type:'log',logBase:10,gridIndex:gi,position:'left',offset:0,min:P.yr[0],max:P.yr[1],
    axisLine:{show:false},axisTick:Object.assign({customValues:minorTicks(P.yr,P.yt)},minorStyle),axisLabel:{show:false},splitLine:{show:false}});
  // bands
  P.bands.forEach((B,m)=>{
    series.push({type:'custom',xAxisIndex:gi,yAxisIndex:gi,clip:true,silent:true,z:1,
      data:[[B[0][0],B[0][1]]],encode:{x:0,y:1},
      renderItem:(params,api)=>{
        const pts=[];
        for(let k=0;k<B.length;k++)pts.push(api.coord([B[k][0],B[k][2]]));
        for(let k=B.length-1;k>=0;k--)pts.push(api.coord([B[k][0],B[k][1]]));
        return {type:'polygon',shape:{points:pts},style:{fill:BAND_COLORS[m],stroke:null}};
      }});
  });
  // lines
  P.lines.forEach((D,m)=>{
    const hollow=m>0;
    series.push({type:'line',name:METHODS[m],xAxisIndex:gi,yAxisIndex:gi,z:3,
      symbol:SYMS[m],symbolSize:SYM_SIZE[m],symbolKeepAspect:true,showSymbol:true,
      lineStyle:{color:COLORS[m],width:LINE_W[m],type:DASH[m]},
      itemStyle:{color:hollow?'rgba(255,255,255,0)':COLORS[m],borderColor:COLORS[m],borderWidth:hollow?1.5:0.5},
      emphasis:{disabled:true},silent:true,
      data:D.map(p=>p[2]?{value:[p[0],p[1]]}:{value:[p[0],p[1]],symbol:'none'})});
  });
  if(P.opt!==null){
    series.push({type:'line',xAxisIndex:gi,yAxisIndex:gi,z:4,symbol:'none',silent:true,
      lineStyle:{color:'#333333',width:1.6,type:[6,4]},data:[[P.xr[0],P.opt],[P.xr[1],P.opt]]});
  }
  // legend box + two legend columns
  const bx=L+PW-218, by=T+3;
  gfx.push({type:'rect',z:10,shape:{x:bx,y:by,width:206,height:64,r:3},style:{fill:'rgba(255,255,255,0.85)',stroke:'#cccccc',lineWidth:1}});
  const lcommon={orient:'vertical',itemWidth:32,itemHeight:11,itemGap:8.6,padding:0,z:20,selectedMode:false,
    textStyle:{fontFamily:FONT,fontSize:13,color:TXT}};
  legend.push(Object.assign({left:bx+6,top:by+5.5,data:METHODS.slice(0,3)},lcommon));
  legend.push(Object.assign({left:bx+108,top:by+5.5,data:METHODS.slice(3)},lcommon));
  gfx.push({type:'text',z:10,x:P.capX,y:T+292,style:{text:CAPTIONS[gi],font:'24px "Liberation Serif"',fill:'#111',align:'center',verticalAlign:'middle'}});
});
xAxis.push(...xMinor); yAxis.push(...yMinor);

const chart=echarts.init(document.getElementById('c'),null,{renderer:'canvas'});
chart.setOption({animation:false,backgroundColor:'#fff',grid,xAxis,yAxis,series,legend,graphic:{elements:gfx}});
</script></body></html>
